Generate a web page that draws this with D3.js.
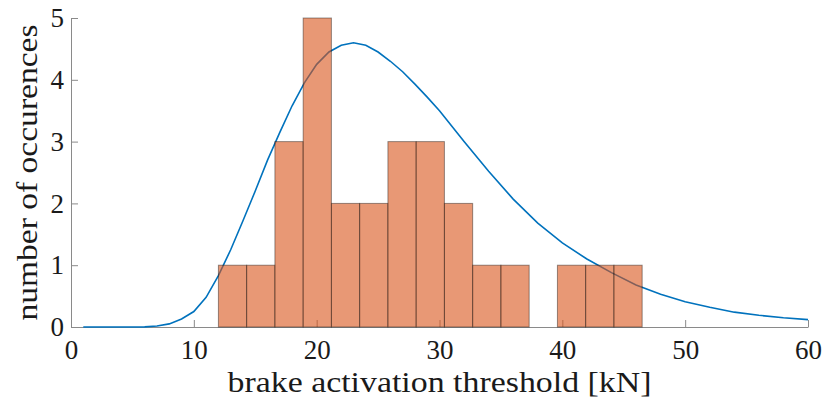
<!DOCTYPE html>
<html>
<head>
<meta charset="utf-8">
<script src="https://cdn.jsdelivr.net/npm/d3@7"></script>
<style>
  body { margin: 0; background: #fff; }
  text { font-family: 'Liberation Serif', 'Times New Roman', serif; fill: #1a1a1a; }
</style>
</head>
<body>
<svg></svg>
<script>
// histogram bins (kN)
const binEdges = [12.0, 14.3, 16.6, 18.9, 21.2, 23.5, 25.8, 28.1, 30.4, 32.7, 35.0, 37.3, 39.6, 41.9, 44.2, 46.5]
const binCounts = [1, 1, 3, 5, 2, 2, 3, 3, 2, 1, 1, 0, 1, 1, 1]

// fitted curve
const curveX = [1, 3, 5, 6, 7, 8, 9, 10, 11, 12, 13, 14, 15, 16, 17, 18, 19, 20, 21, 22, 23, 24, 25, 26, 27, 28, 29, 30, 32, 34, 36, 38, 40, 42, 44, 46, 48, 50, 52, 54, 56, 58, 60]
const curveY = [0, 0, 0, 0.002, 0.015, 0.05, 0.13, 0.25, 0.48, 0.83, 1.25, 1.72, 2.2, 2.7, 3.15, 3.58, 3.95, 4.25, 4.45, 4.56, 4.6, 4.56, 4.45, 4.3, 4.13, 3.93, 3.72, 3.5, 3.0, 2.52, 2.07, 1.68, 1.36, 1.1, 0.88, 0.68, 0.53, 0.41, 0.32, 0.24, 0.19, 0.15, 0.12]

const xTicks = [0, 10, 20, 30, 40, 50, 60]
const yTicks = [0, 1, 2, 3, 4, 5]

const w = 829
const h = 405
const margin = { left: 71, right: 21, top: 18, bottom: 78 }

const svg = d3.select('svg')
  .attr('width', w)
  .attr('height', h)

const xScale = d3.scaleLinear()
  .domain([0, 60])
  .range([margin.left, w - margin.right])

const yScale = d3.scaleLinear()
  .domain([0, 5])
  .range([h - margin.bottom, margin.top])

// axes (drawn first, bars sit on top)
const xAxis = d3.axisBottom(xScale).tickValues(xTicks).tickFormat(d3.format('d'))
  .tickSizeInner(-7).tickSizeOuter(0).tickPadding(13)
const yAxis = d3.axisLeft(yScale).tickValues(yTicks).tickFormat(d3.format('d'))
  .tickSizeInner(-7).tickSizeOuter(0).tickPadding(7)

const gx = svg.append('g')
  .attr('transform', `translate(0, ${yScale(0)})`)
  .call(xAxis)
const gy = svg.append('g')
  .attr('transform', `translate(${xScale(0)}, 0)`)
  .call(yAxis)

for (const g of [gx, gy]) {
  g.select('.domain').attr('stroke', '#8a8a8a')
  g.selectAll('.tick line').attr('stroke', '#8a8a8a')
  g.selectAll('.tick text')
    .style('font-size', '27px')
    .attr('fill', '#1a1a1a')
}

// curve
const line = d3.line()
  .x((d, i) => xScale(curveX[i]))
  .y(d => yScale(d))

svg.append('path')
  .datum(curveY)
  .attr('d', line)
  .attr('fill', 'none')
  .attr('stroke', '#0072bd')
  .attr('stroke-width', 1.6)

// bars
svg.selectAll('.bar')
  .data(binCounts)
  .enter()
  .append('rect')
  .attr('class', 'bar')
  .attr('x', (d, i) => xScale(binEdges[i]))
  .attr('y', d => yScale(d))
  .attr('width', (d, i) => xScale(binEdges[i + 1]) - xScale(binEdges[i]))
  .attr('height', d => yScale(0) - yScale(d))
  .attr('fill', '#d95319')
  .attr('fill-opacity', d => d > 0 ? 0.6 : 0)
  .attr('stroke', '#000')
  .attr('stroke-opacity', d => d > 0 ? 0.4 : 0)
  .attr('stroke-width', 1)

// axis titles
svg.append('text')
  .attr('text-anchor', 'middle')
  .attr('x', (xScale(0) + xScale(60)) / 2)
  .attr('y', 392)
  .style('font-size', '29px')
  .attr('textLength', 424)
  .attr('lengthAdjust', 'spacingAndGlyphs')
  .text('brake activation threshold [kN]')

svg.append('text')
  .attr('text-anchor', 'middle')
  .attr('transform', `translate(37, ${(yScale(0) + yScale(5)) / 2})rotate(-90)`)
  .style('font-size', '29px')
  .attr('textLength', 296)
  .attr('lengthAdjust', 'spacingAndGlyphs')
  .text('number of occurences')
</script>
</body>
</html>
